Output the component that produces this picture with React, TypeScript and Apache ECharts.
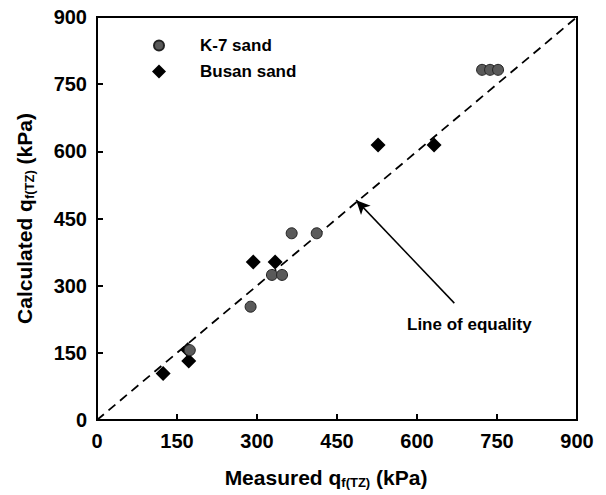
import React, { useEffect, useRef } from "react";
import * as echarts from "echarts";

const xTicks = [0, 150, 300, 450, 600, 750, 900];
const yTicks = [0, 150, 300, 450, 600, 750, 900];

const k7Measured = [174, 288, 328, 347, 365, 412, 722, 737, 752];
const k7Calculated = [156, 253, 324, 324, 417, 417, 782, 782, 782];

const busanMeasured = [124, 170, 172, 293, 334, 527, 632];
const busanCalculated = [104, 157, 132, 353, 353, 614, 614];

const equalityLine = [[0, 0], [900, 900]];
const arrowTail = [670, 261];
const arrowHead = [486, 491];

const FONT = "'Liberation Sans', Arial, Helvetica, sans-serif";
const SMALL_CIRCLE_ICON = "path://M0,0 M14,14 M7,2 A5,5 0 1,1 7,12 A5,5 0 1,1 7,2 Z";

export default function App() {
  const ref = useRef<HTMLDivElement>(null);
  useEffect(() => {
    if (!ref.current) return;
    const chart = echarts.init(ref.current, null, { renderer: "svg" });
    const k7 = k7Measured.map((x, i) => [x, k7Calculated[i]]);
    const busan = busanMeasured.map((x, i) => [x, busanCalculated[i]]);
    const axisCommon = {
      type: "value",
      min: xTicks[0],
      max: xTicks[xTicks.length - 1],
      interval: 150,
      axisLine: { show: true, lineStyle: { color: "#000", width: 2 } },
      axisTick: { show: true, inside: true, length: 6, lineStyle: { color: "#000", width: 2 } },
      splitLine: { show: false },
      axisLabel: { color: "#000", fontSize: 20, fontWeight: "bold", fontFamily: FONT },
    };
    const titleRich = {
      a: { fontSize: 21, fontWeight: "bold", fontFamily: FONT, color: "#000", lineHeight: 26 },
      b: { fontSize: 13, fontWeight: "bold", fontFamily: FONT, color: "#000", lineHeight: 26, padding: [10, 0, 0, 0] },
    };
    chart.setOption({
      animation: false,
      backgroundColor: "#fff",
      grid: {
        left: 97,
        top: 17,
        right: 29,
        bottom: 75,
        show: true,
        borderColor: "#000",
        borderWidth: 2,
        outerBoundsMode: "none",
      },
      legend: {
        orient: "vertical",
        left: 146,
        top: 32,
        itemWidth: 14,
        itemHeight: 14,
        itemGap: 9,
        data: [
          { name: "K-7 sand", icon: SMALL_CIRCLE_ICON },
          { name: "Busan sand", icon: "diamond" },
        ],
        textStyle: {
          color: "#000",
          fontSize: 17,
          fontWeight: "bold",
          fontFamily: FONT,
          padding: [0, 0, 0, 29],
        },
      },
      xAxis: {
        ...axisCommon,
        axisLabel: { ...axisCommon.axisLabel, margin: 11 },
        name: "{a|Measured q}{b|f(TZ)}{a| (kPa)}",
        nameLocation: "middle",
        nameGap: 44,
        nameTextStyle: { padding: [0, 22, 0, 0], rich: titleRich },
      },
      yAxis: {
        ...axisCommon,
        min: yTicks[0],
        max: yTicks[yTicks.length - 1],
        axisLabel: { ...axisCommon.axisLabel, margin: 10 },
        name: "{a|Calculated q}{b|f(TZ)}{a| (kPa)}",
        nameLocation: "middle",
        nameGap: 60,
        nameTextStyle: { rich: titleRich },
      },
      series: [
        {
          name: "equality",
          type: "line",
          data: equalityLine,
          symbol: "none",
          silent: true,
          z: 1,
          lineStyle: { color: "#000", width: 1.8, type: [9, 6] },
          markLine: {
            silent: true,
            symbol: ["none", "arrow"],
            symbolSize: [10, 14],
            label: { show: false },
            lineStyle: { color: "#000", width: 1.5, type: "solid" },
            data: [[{ coord: arrowTail }, { coord: arrowHead }]],
          },
        },
        {
          name: "Busan sand",
          type: "scatter",
          symbol: "diamond",
          symbolSize: 15,
          data: busan,
          z: 2,
          itemStyle: { color: "#000", opacity: 1 },
        },
        {
          name: "K-7 sand",
          type: "scatter",
          symbol: "circle",
          symbolSize: 11,
          data: k7,
          z: 3,
          itemStyle: { color: "#5a5a5a", borderColor: "#222", borderWidth: 1, opacity: 1 },
        },
      ],
      graphic: [
        {
          type: "text",
          left: 407,
          top: 316,
          style: {
            text: "Line of equality",
            fill: "#000",
            font: `bold 17px ${FONT}`,
          },
        },
      ],
    });
    return () => chart.dispose();
  }, []);
  return (
    <div
      ref={ref}
      style={{ position: "fixed", left: 0, top: 0, width: 606, height: 495, background: "#fff" }}
    />
  );
}
